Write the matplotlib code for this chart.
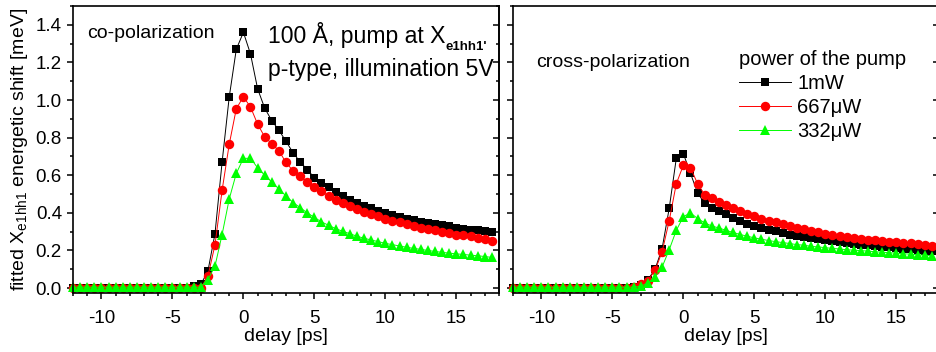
import matplotlib
matplotlib.use('Agg')
import matplotlib.pyplot as plt
import numpy as np
from matplotlib.ticker import MultipleLocator

plt.rcParams['font.family'] = ['Liberation Sans', 'DejaVu Sans']
plt.rcParams['mathtext.fontset'] = 'custom'
plt.rcParams['mathtext.rm'] = 'Liberation Sans'
plt.rcParams['mathtext.it'] = 'Liberation Sans:italic'
plt.rcParams['axes.unicode_minus'] = False

# delay axis, 0.5 ps steps from -12 to 17.5
delay = np.arange(-12, 18, 0.5)

# co-polarization
co_1mW = [0.00, 0.00, 0.00, 0.00, 0.00, 0.00, 0.00, 0.00, 0.00, 0.00, 0.00, 0.00, 0.00, 0.00, 0.00, 0.00, 0.00, 0.01,
          0.02, 0.09, 0.29, 0.67, 1.015, 1.27, 1.36, 1.245, 1.06, 0.957,
          0.89, 0.84, 0.78, 0.72, 0.67, 0.63, 0.587, 0.56, 0.536, 0.51,
          0.488, 0.47, 0.45, 0.437, 0.424, 0.41, 0.397, 0.387, 0.38, 0.37,
          0.36, 0.352, 0.347, 0.34, 0.334, 0.329, 0.32, 0.316, 0.31, 0.307,
          0.303, 0.298]
co_667 = [0.00, 0.00, 0.00, 0.00, 0.00, 0.00, 0.00, 0.00, 0.00, 0.00, 0.00, 0.00, 0.00, 0.00, 0.00, 0.00, 0.00, 0.00,
          0.00, 0.063, 0.23, 0.52, 0.764, 0.954, 1.017, 0.963, 0.872, 0.804,
          0.768, 0.73, 0.668, 0.623, 0.596, 0.564, 0.536, 0.515, 0.49, 0.47,
          0.452, 0.434, 0.42, 0.406, 0.394, 0.383, 0.37, 0.358, 0.349, 0.34,
          0.33, 0.32, 0.314, 0.307, 0.30, 0.293, 0.285, 0.28, 0.275, 0.267,
          0.262, 0.253]
co_332 = [0.005, 0.005, 0.005, 0.005, 0.005, 0.005, 0.005, 0.005, 0.005, 0.005, 0.005, 0.005, 0.005, 0.005, 0.005, 0.005, 0.005, 0.005,
          0.005, 0.045, 0.117, 0.285, 0.473, 0.61, 0.69, 0.69, 0.64, 0.60,
          0.564, 0.527, 0.49, 0.455, 0.428, 0.40, 0.376, 0.352, 0.334, 0.316,
          0.302, 0.289, 0.276, 0.265, 0.256, 0.247, 0.238, 0.231, 0.224, 0.217,
          0.211, 0.206, 0.20, 0.195, 0.19, 0.186, 0.182, 0.179, 0.175, 0.172,
          0.168, 0.163]

# cross-polarization
cr_1mW = [0.00, 0.00, 0.00, 0.00, 0.00, 0.00, 0.00, 0.00, 0.00, 0.00, 0.00, 0.00, 0.00, 0.00, 0.00, 0.00, 0.00, 0.005,
          0.018, 0.045, 0.10, 0.21, 0.424, 0.69, 0.714, 0.61, 0.506, 0.45,
          0.428, 0.41, 0.392, 0.374, 0.356, 0.343, 0.33, 0.32, 0.31, 0.302,
          0.293, 0.285, 0.278, 0.271, 0.266, 0.26, 0.255, 0.249, 0.244, 0.24,
          0.235, 0.231, 0.228, 0.224, 0.22, 0.217, 0.213, 0.21, 0.206, 0.202,
          0.199, 0.195]
cr_667 = [0.00, 0.00, 0.00, 0.00, 0.00, 0.00, 0.00, 0.00, 0.00, 0.00, 0.00, 0.00, 0.00, 0.00, 0.00, 0.00, 0.00, 0.005,
          0.02, 0.04, 0.094, 0.193, 0.358, 0.555, 0.654, 0.64, 0.555, 0.497,
          0.479, 0.46, 0.443, 0.424, 0.41, 0.394, 0.383, 0.37, 0.358, 0.349,
          0.34, 0.33, 0.32, 0.312, 0.303, 0.296, 0.289, 0.284, 0.278, 0.273,
          0.267, 0.262, 0.258, 0.255, 0.251, 0.247, 0.244, 0.24, 0.238, 0.235,
          0.231, 0.226]
cr_332 = [0.005, 0.005, 0.005, 0.005, 0.005, 0.005, 0.005, 0.005, 0.005, 0.005, 0.005, 0.005, 0.005, 0.005, 0.005, 0.005, 0.005, 0.005,
          0.01, 0.027, 0.058, 0.112, 0.204, 0.307, 0.38, 0.40, 0.37, 0.347,
          0.33, 0.32, 0.307, 0.296, 0.285, 0.276, 0.267, 0.26, 0.253, 0.247,
          0.242, 0.237, 0.231, 0.228, 0.222, 0.219, 0.215, 0.211, 0.208, 0.204,
          0.202, 0.199, 0.197, 0.193, 0.191, 0.188, 0.186, 0.182, 0.181, 0.177,
          0.175, 0.172]

labels = ['1mW', '667\u03bcW', '332\u03bcW']
colors = ['black', 'red', '#00ff00']
markers = ['s', 'o', '^']
msizes = [6.2, 6.8, 7.2]

fig = plt.figure(figsize=(9.37, 3.52), dpi=100)
ax1 = fig.add_axes([73 / 937, 59 / 352, 426 / 937, 287 / 352])
ax2 = fig.add_axes([513 / 937, 59 / 352, 426 / 937, 287 / 352])

for ax, series in [(ax1, [co_1mW, co_667, co_332]), (ax2, [cr_1mW, cr_667, cr_332])]:
    for y, c, m, ms, lab in zip(series, colors, markers, msizes, labels):
        ax.plot(delay, y, color=c, marker=m, markersize=ms, lw=0.7,
                markeredgewidth=0, label=lab, clip_on=False)
    ax.set_xlim(-12, 18)
    ax.set_ylim(-0.026, 1.5)
    ax.xaxis.set_major_locator(MultipleLocator(5))
    ax.xaxis.set_minor_locator(MultipleLocator(1))
    ax.yaxis.set_major_locator(MultipleLocator(0.2))
    ax.yaxis.set_minor_locator(MultipleLocator(0.1))
    ax.yaxis.set_major_formatter(plt.FormatStrFormatter('%.1f'))
    ax.tick_params(which='both', direction='out', labelsize=13.5, width=1.1)
    ax.tick_params(which='major', length=4.5)
    ax.tick_params(which='minor', length=2.5)
    ax.tick_params(axis='x', which='major', pad=8)
    for s in ax.spines.values():
        s.set_linewidth(1.2)
    # inward ticks on the right side
    sec = ax.secondary_yaxis('right')
    sec.yaxis.set_major_locator(MultipleLocator(0.2))
    sec.yaxis.set_minor_locator(MultipleLocator(0.1))
    sec.tick_params(which='both', direction='in', labelright=False, width=1.1)
    sec.tick_params(which='major', length=4.5)
    sec.tick_params(which='minor', length=2.5)
    sec.spines['right'].set_linewidth(1.2)
    ax.set_xlabel('delay [ps]', fontsize=14, labelpad=0.5)

ax2.tick_params(axis='y', labelleft=False)
ax1.set_ylabel(r'fitted X$_{\mathrm{e1hh1}}$ energetic shift [meV]', fontsize=14, labelpad=4)

ax1.text(0.033, 0.887, 'co-polarization', transform=ax1.transAxes, fontsize=14, va='baseline')
ax1.text(0.458, 0.870, '100 Å, pump at X', transform=ax1.transAxes, fontsize=16.6, va='baseline')
# subscript of X, placed by hand below the baseline
ax1.text(0.874, 0.847, "e1hh1'", transform=ax1.transAxes, fontsize=9.5, va='baseline', fontweight='bold')
ax1.text(0.458, 0.756, 'p-type, illumination 5V', transform=ax1.transAxes, fontsize=16.6, va='baseline')
ax2.text(0.054, 0.789, 'cross-polarization', transform=ax2.transAxes, fontsize=14, va='baseline')

leg = ax2.legend(title='power of the pump', loc='upper left', bbox_to_anchor=(0.53, 0.848),
                 frameon=False, fontsize=14.5, title_fontsize=14.5, handlelength=2.6,
                 handletextpad=0.3, labelspacing=0.26, borderpad=0, borderaxespad=0,
                 alignment='left')

fig.savefig('out.png', dpi=100)
